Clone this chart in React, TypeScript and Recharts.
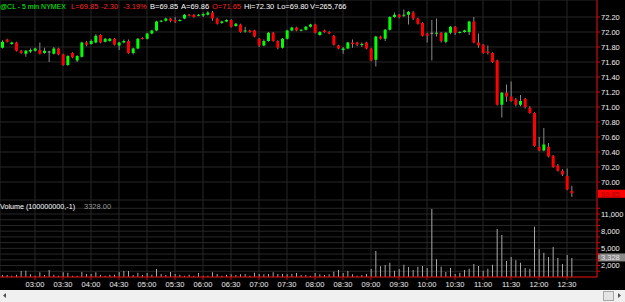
import { Bar, CartesianGrid, ComposedChart, ReferenceLine, XAxis, YAxis } from 'recharts'

// 5 min bars, first bar at 02:25
const firstBar = '02:25'
const barMinutes = 5

const opens = [
  71.79, 71.9, 71.84, 71.86, 71.75, 71.71, 71.74, 71.75, 71.76, 71.72, 71.74, 71.71, 71.78, 71.7, 71.56, 71.72,
  71.62, 71.67, 71.86, 71.84, 71.86, 71.96, 71.87, 71.88, 71.91, 71.82, 71.86, 71.88, 71.72, 71.78, 71.92, 71.91,
  71.98, 72.02, 72.14, 72.15, 72.18, 72.16, 72.15, 72.18, 72.23, 72.23, 72.22, 72.22, 72.23, 72.26, 72.18, 72.12,
  72.14, 72.16, 72.08, 72.1, 72.01, 72.02, 72.02, 71.91, 71.82, 71.88, 71.99, 71.88, 71.79, 71.91, 72.02, 72.06,
  72.02, 72.03, 72.07, 72.1, 71.96, 72.02, 72.0, 71.95, 71.82, 71.76, 71.78, 71.86, 71.86, 71.83, 71.86, 71.78,
  71.63, 71.94, 71.91, 72.03, 72.2, 72.23, 72.22, 72.23, 72.26, 72.18, 72.12, 71.98, 71.99, 71.98, 71.99, 71.87,
  71.99, 72.07, 71.99, 72.0, 72.0, 72.14, 71.86, 71.83, 71.74, 71.72, 71.62, 71.03, 71.19, 71.14, 71.1, 71.03,
  71.11, 70.99, 70.92, 70.47, 70.42, 70.47, 70.35, 70.22, 70.15, 70.08, 69.88,
]
const highs = [
  71.89, 71.91, 71.87, 71.87, 71.76, 71.76, 71.78, 71.79, 71.86, 71.79, 71.75, 71.8, 71.79, 71.71, 71.69, 71.73,
  71.69, 71.87, 71.88, 71.9, 71.97, 71.97, 71.92, 71.92, 71.92, 71.87, 71.9, 71.9, 71.79, 71.92, 71.93, 71.99,
  72.03, 72.15, 72.16, 72.19, 72.19, 72.2, 72.17, 72.24, 72.24, 72.24, 72.24, 72.26, 72.28, 72.28, 72.19, 72.15,
  72.17, 72.17, 72.12, 72.11, 72.07, 72.03, 72.03, 71.92, 71.9, 72.0, 72.0, 71.89, 71.92, 72.03, 72.07, 72.07,
  72.04, 72.08, 72.11, 72.11, 72.01, 72.03, 72.01, 71.96, 71.83, 71.8, 71.87, 71.9, 71.87, 71.86, 71.87, 71.79,
  71.95, 71.95, 72.04, 72.21, 72.26, 72.24, 72.3, 72.28, 72.28, 72.19, 72.13, 71.99, 72.16, 72.18, 72.0, 72.0,
  72.08, 72.08, 72.01, 72.03, 72.15, 72.2, 71.98, 71.84, 71.82, 71.73, 71.63, 71.2, 71.3, 71.34, 71.12, 71.16,
  71.12, 71.01, 70.93, 70.6, 70.72, 70.52, 70.36, 70.24, 70.17, 70.18, 69.95,
]
const lows = [
  71.78, 71.86, 71.83, 71.74, 71.71, 71.67, 71.72, 71.74, 71.7, 71.71, 71.6, 71.7, 71.69, 71.55, 71.55, 71.65,
  71.6, 71.66, 71.81, 71.83, 71.85, 71.85, 71.86, 71.87, 71.82, 71.76, 71.85, 71.71, 71.7, 71.77, 71.9, 71.9,
  71.97, 72.01, 72.13, 72.14, 72.13, 72.12, 72.14, 72.17, 72.21, 72.19, 72.21, 72.2, 72.22, 72.15, 72.1, 72.11,
  72.13, 72.06, 72.07, 71.99, 71.99, 71.99, 71.93, 71.8, 71.81, 71.87, 71.87, 71.77, 71.78, 71.9, 72.01, 72.01,
  72.01, 72.02, 72.06, 71.98, 71.95, 71.99, 71.97, 71.82, 71.77, 71.71, 71.77, 71.79, 71.81, 71.8, 71.77, 71.61,
  71.54, 71.9, 71.88, 72.02, 72.19, 72.18, 72.2, 72.1, 72.16, 72.1, 71.94, 71.86, 71.62, 71.94, 71.86, 71.85,
  71.97, 71.96, 71.98, 71.99, 71.96, 71.85, 71.79, 71.71, 71.7, 71.59, 71.02, 70.86, 71.07, 71.07, 71.01, 71.01,
  70.98, 70.91, 70.47, 70.41, 70.41, 70.33, 70.19, 70.14, 70.08, 69.89, 69.8,
]
const closes = [
  71.87, 71.87, 71.86, 71.75, 71.72, 71.75, 71.76, 71.78, 71.71, 71.75, 71.74, 71.78, 71.7, 71.56, 71.68, 71.66,
  71.68, 71.86, 71.83, 71.88, 71.95, 71.86, 71.91, 71.91, 71.83, 71.86, 71.88, 71.72, 71.78, 71.91, 71.91, 71.98,
  72.02, 72.14, 72.15, 72.18, 72.15, 72.14, 72.16, 72.23, 72.22, 72.2, 72.23, 72.24, 72.26, 72.18, 72.11, 72.14,
  72.16, 72.07, 72.11, 72.0, 72.02, 72.0, 71.94, 71.82, 71.88, 71.99, 71.88, 71.79, 71.91, 72.02, 72.06, 72.02,
  72.03, 72.07, 72.1, 71.99, 72.0, 72.0, 71.98, 71.83, 71.78, 71.78, 71.86, 71.84, 71.83, 71.84, 71.78, 71.62,
  71.94, 71.91, 72.03, 72.2, 72.23, 72.2, 72.23, 72.27, 72.18, 72.11, 71.95, 71.95, 71.99, 71.99, 71.88, 71.99,
  72.07, 71.99, 72.0, 72.02, 72.14, 71.86, 71.82, 71.72, 71.72, 71.6, 71.03, 71.19, 71.14, 71.08, 71.03, 71.08,
  71.0, 70.92, 70.48, 70.42, 70.5, 70.34, 70.2, 70.15, 70.1, 69.9, 69.85,
]
const volumes = [
  350, 350, 200, 410, 1050, 1100, 465, 230, 815, 350, 1220, 410, 200, 815, 760, 200,
  200, 870, 520, 520, 815, 410, 200, 410, 410, 870, 1050, 1050, 350, 760, 350, 700,
  410, 1400, 520, 350, 870, 520, 410, 230, 410, 200, 700, 200, 230, 815, 520, 200,
  410, 465, 350, 465, 520, 200, 760, 520, 465, 520, 815, 520, 520, 465, 520, 700,
  350, 350, 200, 700, 465, 350, 465, 930, 1220, 700, 1050, 465, 200, 350, 520, 1400,
  4540, 1860, 2100, 2500, 1100, 1400, 2150, 1750, 1220, 1800, 1920, 1570, 11870, 3080, 1800, 870,
  1570, 520, 760, 1220, 1450, 2270, 1920, 1100, 1450, 2150, 8380, 7330, 2790, 3490, 2910, 2500,
  1570, 1450, 8790, 4830, 4250, 3490, 5240, 3320, 2270, 3840, 3328,
]

const timeTicks = [
  '03:00', '03:30', '04:00', '04:30', '05:00', '05:30', '06:00', '06:30', '07:00', '07:30',
  '08:00', '08:30', '09:00', '09:30', '10:00', '10:30', '11:00', '11:30', '12:00', '12:30',
]
const priceTicks = [70.0, 70.2, 70.4, 70.6, 70.8, 71.0, 71.2, 71.4, 71.6, 71.8, 72.0, 72.2]
const volumeTicks = [1000, 2000, 3000, 4000, 5000, 6000, 7000, 8000, 9000, 10000, 11000, 12000]
const volumeLabels = [2000, 5000, 8000, 11000]
const lastPrice = 69.85
const lastVolume = 3328

const header = [
  { text: '@CL - 5 min NYMEX', x: 0, size: 7, color: '#00ff00' },
  { text: 'L=69.85', x: 71, size: 7.5, color: '#ff2020' },
  { text: '-2.30', x: 101, size: 7.5, color: '#ff2020' },
  { text: '-3.19%', x: 123, size: 7.5, color: '#ff2020' },
  { text: 'B=69.85', x: 150, size: 7.5, color: '#ffffff' },
  { text: 'A=69.86', x: 181, size: 7.5, color: '#ffffff' },
  { text: 'O=71.65', x: 212, size: 7.5, color: '#ff2020' },
  { text: 'Hi=72.30', x: 244, size: 7.5, color: '#ffffff' },
  { text: 'Lo=69.80', x: 277, size: 7.5, color: '#ffffff' },
  { text: 'V=265,766', x: 310, size: 7.5, color: '#ffffff' },
]

const pad = (n: number) => String(n).padStart(2, '0')
const [h0, m0] = firstBar.split(':').map(Number)
const rows = opens.map((open, i) => {
  const m = h0 * 60 + m0 + i * barMinutes
  return {
    time: `${pad(Math.floor(m / 60))}:${pad(m % 60)}`,
    open,
    high: highs[i],
    low: lows[i],
    close: closes[i],
    range: [lows[i], highs[i]],
    volume: volumes[i],
  }
})

const FONT = '"Liberation Sans", Arial, sans-serif'
const GRID = '#272727'
const AXIS = '#e00000'

function Candle(props: any) {
  const { x, y, width, height, payload } = props
  const { open, close, high, low } = payload
  const span = high - low || 1
  const py = (p: number) => y + ((high - p) / span) * height
  const cx = x + width / 2
  const color = close > open ? '#00ff00' : close < open ? '#ff0000' : '#a0a0a0'
  const top = py(Math.max(open, close))
  const bot = py(Math.min(open, close))
  return (
    <g>
      <line x1={cx} x2={cx} y1={y} y2={y + height} stroke="#8a8a8a" strokeWidth={1} />
      <rect x={x} y={top} width={width} height={Math.max(bot - top, 1)} fill={color} />
    </g>
  )
}

function Flag(props: any) {
  const { viewBox, text, fill, color, up = 3.5 } = props
  if (!viewBox) return null
  const x = viewBox.x + viewBox.width + 1
  const y = viewBox.y
  return (
    <g>
      <rect x={x} y={y - up} width={27} height={8} fill={fill} />
      <text x={x + 3} y={y - up + 7} fill={color} fontSize={7.5} fontFamily={FONT}>
        {text}
      </text>
    </g>
  )
}

function VolumeTick(props: any) {
  const { x, y, payload } = props
  if (!volumeLabels.includes(payload.value)) return null
  return (
    <text x={x} y={y} dy="0.355em" fill="#f0f0f0" fontSize={7.5} fontFamily={FONT}>
      {payload.value.toLocaleString('en-US')}
    </text>
  )
}

export default function App() {
  return (
    <div
      style={{
        position: 'absolute',
        left: 0,
        top: 0,
        width: 625,
        height: 302,
        background: '#000',
        overflow: 'hidden',
      }}
    >
      <div style={{ position: 'absolute', left: 0, top: 0 }}>
        <ComposedChart width={625} height={200} data={rows} margin={{ top: 0, right: 0, bottom: 0, left: 0 }}>
          <CartesianGrid stroke={GRID} />
          <XAxis dataKey="time" hide ticks={timeTicks} interval={0} padding={{ left: 0, right: 23 }} />
          <YAxis
            orientation="right"
            width={28}
            domain={[69.76, 72.4267]}
            ticks={priceTicks}
            interval={0}
            tickFormatter={(v: number) => v.toFixed(2)}
            axisLine={{ stroke: AXIS }}
            tickLine={{ stroke: AXIS }}
            tickSize={3}
            tickMargin={1}
            tick={{ fill: '#f0f0f0', fontSize: 7.5, fontFamily: FONT, textAnchor: 'start' }}
          />
          <Bar dataKey="range" barSize={3} shape={Candle} isAnimationActive={false} />
          <ReferenceLine
            y={lastPrice}
            stroke="none"
            label={(p: any) => <Flag {...p} text={lastPrice.toFixed(2)} fill="#ff0000" color="#a00000" />}
          />
        </ComposedChart>
      </div>
      <div style={{ position: 'absolute', left: 0, top: 200 }}>
        <ComposedChart width={625} height={90} data={rows} margin={{ top: 0, right: 0, bottom: 0, left: 0 }}>
          <CartesianGrid stroke={GRID} />
          <XAxis
            dataKey="time"
            ticks={timeTicks}
            interval={0}
            padding={{ left: 0, right: 23 }}
            height={13}
            axisLine={{ stroke: AXIS }}
            tickLine={{ stroke: AXIS }}
            tickSize={3}
            tickMargin={2}
            tick={{ fill: '#eeeeee', fontSize: 7.5, fontFamily: FONT }}
          />
          <YAxis
            orientation="right"
            width={28}
            domain={[0, 13445]}
            ticks={volumeTicks}
            interval={0}
            axisLine={{ stroke: AXIS }}
            tickLine={{ stroke: AXIS }}
            tickSize={3}
            tickMargin={1}
            tick={VolumeTick}
          />
          <Bar dataKey="volume" barSize={1} fill="#a8a8a8" isAnimationActive={false} />
          <ReferenceLine
            y={lastVolume}
            stroke="none"
            label={(p: any) => (
              <Flag {...p} up={4.5} text={lastVolume.toLocaleString('en-US')} fill="#8a8a8a" color="#e4e4e4" />
            )}
          />
        </ComposedChart>
      </div>
      <svg
        width={625}
        height={302}
        style={{ position: 'absolute', left: 0, top: 0, pointerEvents: 'none' }}
        fontFamily={FONT}
        fontSize={7.5}
      >
        {header.map((h) => (
          <text key={h.text} x={h.x} y={8.5} fill={h.color} fontSize={h.size}>
            {h.text}
          </text>
        ))}
        <text x={0} y={208.5} fill="#ffffff" fontSize={7.2}>
          Volume (100000000,-1)
        </text>
        <text x={84} y={208.5} fill="#9a9a9a">
          3328.00
        </text>
        <rect x={0} y={290} width={625} height={12} fill="#f0f0f0" />
        <polygon points="6,293 3,295.5 6,298" fill="#505050" />
        <rect x={603.5} y={291.5} width={10} height={9} fill="#e4e4e4" stroke="#a8a8a8" />
        <polygon points="618,293 621,295.5 618,298" fill="#505050" />
      </svg>
    </div>
  )
}
